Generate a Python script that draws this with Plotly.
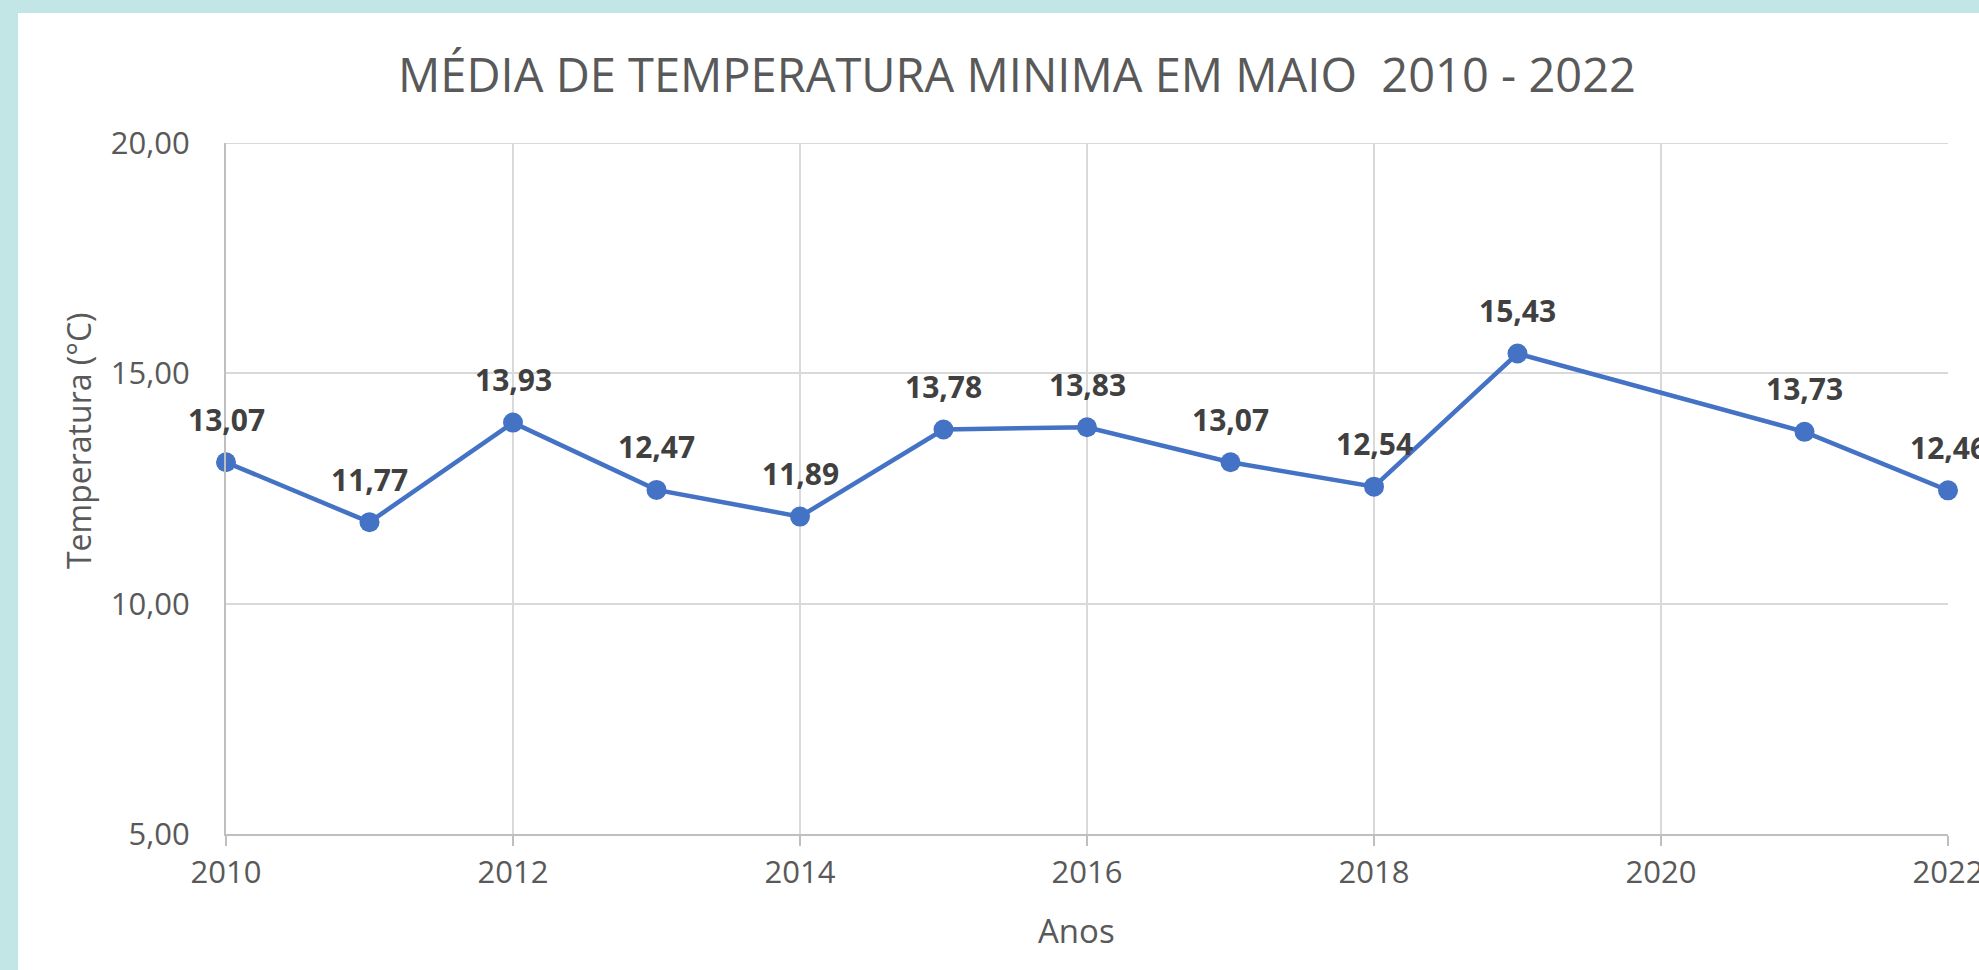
import plotly.graph_objects as go

years = [2010, 2011, 2012, 2013, 2014, 2015, 2016, 2017, 2018, 2019, 2021, 2022]
temps = [13.07, 11.77, 13.93, 12.47, 11.89, 13.78, 13.83, 13.07, 12.54, 15.43, 13.73, 12.46]
labels = [f"{v:.2f}".replace(".", ",") for v in temps]
y_ticks = [5, 10, 15, 20]
y_ticktext = ["5,00", "10,00", "15,00", "20,00"]
x_ticks = [2010, 2012, 2014, 2016, 2018, 2020, 2022]

W, H = 1979, 970
L, R, T, B = 226, 31, 143, 136
pw, ph = W - L - R, H - T - B

def px_x(p):
    return (p - L) / pw

def px_y(p):
    return (H - B - p) / ph

FONT = "Open Sans"
GREY = "#595959"
BLUE = "#4472C4"
GRID = "#d9d9d9"

fig = go.Figure()
fig.add_trace(go.Scatter(
    x=years, y=temps, mode="lines+markers",
    line=dict(color=BLUE, width=4.5),
    marker=dict(color=BLUE, size=20),
    cliponaxis=False, hoverinfo="skip", showlegend=False,
))

for xv, yv, t in zip(years, temps, labels):
    fig.add_annotation(x=xv, y=yv, text=f"<b>{t}</b>", showarrow=False,
                       yshift=43, font=dict(family=FONT, size=30, color="#404040"))

fig.add_shape(type="rect", xref="paper", yref="paper",
              x0=px_x(18), x1=px_x(W + 5), y0=px_y(H + 5), y1=px_y(13),
              fillcolor="white", line=dict(width=0), layer="below")

# top gridline at the highest tick (plotly skips gridlines on the edge)
fig.add_shape(type="line", xref="x", yref="y",
              x0=x_ticks[0], x1=x_ticks[-1], y0=y_ticks[-1], y1=y_ticks[-1],
              line=dict(color=GRID, width=2), layer="below")

fig.add_annotation(xref="paper", yref="paper", x=px_x(78), y=px_y(441),
                   xanchor="center", yanchor="middle",
                   text="Temperatura (°C)", textangle=-90, showarrow=False,
                   font=dict(family=FONT, size=32, color=GREY))
fig.add_annotation(xref="paper", yref="paper", x=px_x(1076), y=px_y(930),
                   xanchor="center", yanchor="middle",
                   text="Anos", showarrow=False,
                   font=dict(family=FONT, size=33, color=GREY))

fig.update_layout(
    width=W, height=H, autosize=False,
    margin=dict(l=L, r=R, t=T, b=B, autoexpand=False),
    paper_bgcolor="#c2e6e6",
    plot_bgcolor="white",
    title=dict(text="MÉDIA DE TEMPERATURA MINIMA EM MAIO  2010 - 2022",
               xref="container", yref="container",
               x=1017 / W, y=1 - 76 / H, xanchor="center", yanchor="middle",
               font=dict(family=FONT, size=47, color=GREY)),
    xaxis=dict(range=[2010, 2022], tickmode="array", tickvals=x_ticks,
               showgrid=True, gridcolor=GRID, gridwidth=2,
               showline=True, linecolor="#bfbfbf", linewidth=2,
               ticks="outside", ticklen=10, tickwidth=2, tickcolor="#bfbfbf",
               tickfont=dict(family=FONT, size=31, color=GREY),
               ticklabeloverflow="allow", automargin=False,
               zeroline=False, mirror=False),
    yaxis=dict(range=[5, 20], tickmode="array", tickvals=y_ticks, ticktext=y_ticktext,
               showgrid=True, gridcolor=GRID, gridwidth=2,
               showline=True, linecolor="#bfbfbf", linewidth=2,
               ticks="", ticklabelstandoff=28, automargin=False,
               tickfont=dict(family=FONT, size=31, color=GREY),
               zeroline=False),
)

fig.write_html("out.html",
               config={"responsive": False, "displayModeBar": False},
               post_script="document.body.style.margin='0';document.body.style.overflow='hidden';")
